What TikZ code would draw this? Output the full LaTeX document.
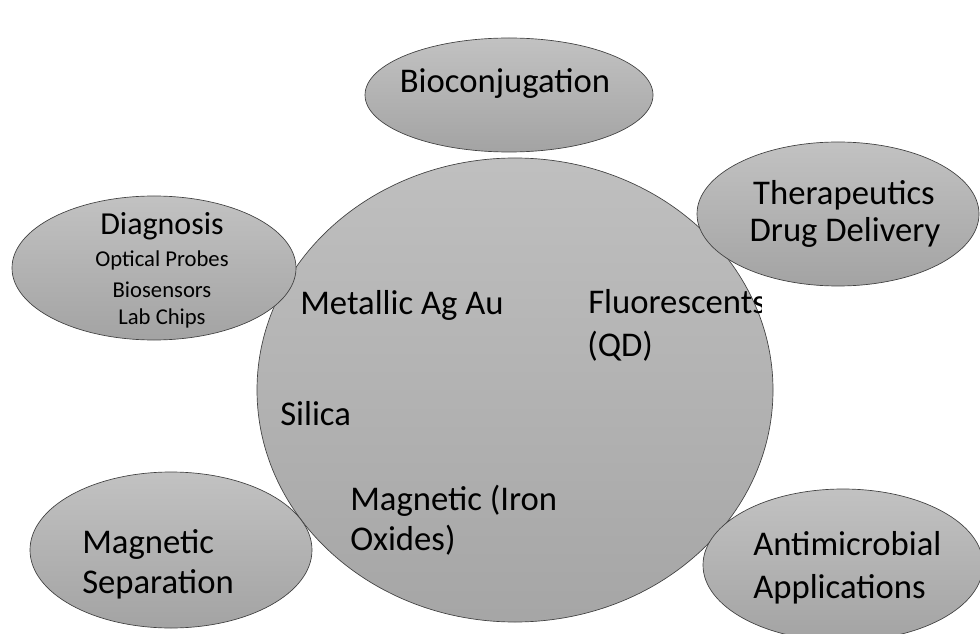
\documentclass[tikz,border=0pt]{standalone}
\usepackage{fontspec}
\setmainfont{Carlito}
\usetikzlibrary{shapes.geometric}
\begin{document}
\begin{tikzpicture}[x=0.75pt,y=-0.75pt,
  blob/.style={ellipse, inner sep=0pt, draw=gray!50!black, line width=0.5pt,
    top color=gray!48, bottom color=gray!72},
  lbl/.style={inner sep=0pt, text=black, font=\fontsize{26}{28}\selectfont},
  lblmid/.style={inner sep=0pt, text=black, font=\fontsize{24}{26}\selectfont},
  sub/.style={inner sep=0pt, text=black, font=\fontsize{17}{19}\selectfont},
]
\useasboundingbox (0,0) rectangle (980,634);

% central sphere
\node[blob, minimum width=387pt, minimum height=348pt, top color=gray!50, bottom color=gray!70] (core) at (515,390) {};

% satellite bubbles
\node[blob, minimum width=216pt, minimum height=85.5pt] (bioE) at (509,95) {};
\node[blob, minimum width=211.5pt, minimum height=108pt] (therE) at (838,214) {};
\node[blob, minimum width=213pt, minimum height=108pt] (diagE) at (154,268) {};
\node[blob, minimum width=211.5pt, minimum height=117pt] (msE) at (171,550) {};
\node[blob, minimum width=210pt, minimum height=114pt] (amE) at (843,565) {};

% satellite labels
\node[lbl, anchor=base] (bio) at (505,93) {Bioconjugation};
\node[lbl, anchor=base] (ther1) at (844,205) {Therapeutics};
\node[lbl, anchor=base] (ther2) at (845,242) {Drug Delivery};
\node[lblmid, anchor=base] (diag) at (162,235) {Diagnosis};
\node[sub, anchor=base] (diag1) at (162,267) {Optical Probes};
\node[sub, anchor=base] (diag2) at (162,297) {Biosensors};
\node[sub, anchor=base] (diag3) at (162,325) {Lab Chips};
\node[lbl, anchor=base west] (ms1) at (82,553) {Magnetic};
\node[lbl, anchor=base west] (ms2) at (82,593) {Separation};
\node[lbl, anchor=base west] (am1) at (753,555) {Antimicrobial};
\node[lbl, anchor=base west] (am2) at (753,598) {Applications};

% core labels
\node[lbl, anchor=base west] (met) at (300,315) {Metallic Ag Au};
\node[lbl, anchor=base west] (sil) at (280,425) {Silica};
\begin{scope}
  \clip (560,270) rectangle (761,380);
  \node[lbl, anchor=base west] (flu1) at (588,313) {Fluorescents};
  \node[lbl, anchor=base west] (flu2) at (587,356) {(QD)};
\end{scope}
\node[lbl, anchor=base west] (mag1) at (350,510) {Magnetic (Iron};
\node[lbl, anchor=base west] (mag2) at (350,550) {Oxides)};
\end{tikzpicture}
\end{document}
